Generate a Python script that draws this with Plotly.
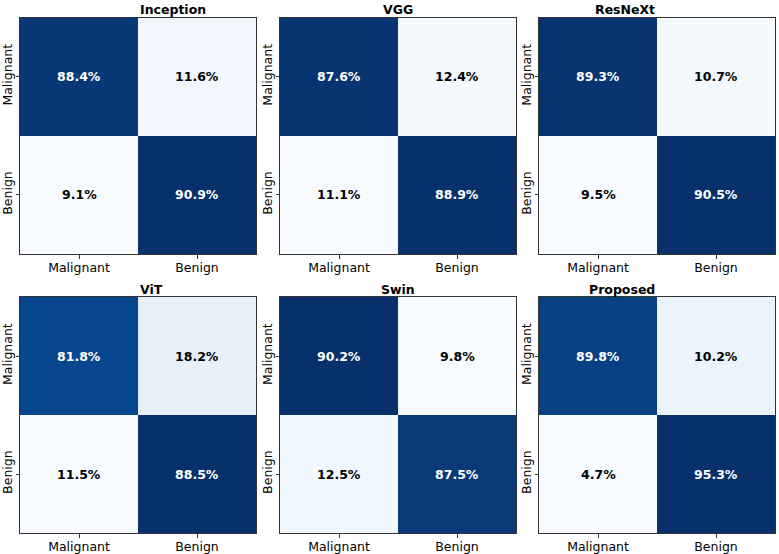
import plotly.graph_objects as go

models = ["Inception", "VGG", "ResNeXt", "ViT", "Swin", "Proposed"]
classes = ["Malignant", "Benign"]
# rows: true class (Malignant, Benign); cols: predicted (Malignant, Benign)
inception = [[88.4, 11.6], [9.1, 90.9]]
vgg = [[87.6, 12.4], [11.1, 88.9]]
resnext = [[89.3, 10.7], [9.5, 90.5]]
vit = [[81.8, 18.2], [11.5, 88.5]]
swin = [[90.2, 9.8], [12.5, 87.5]]
proposed = [[89.8, 10.2], [4.7, 95.3]]
matrices = [inception, vgg, resnext, vit, swin, proposed]

blues = [
    [0.0, "rgb(247,251,255)"], [0.125, "rgb(222,235,247)"], [0.25, "rgb(198,219,239)"],
    [0.375, "rgb(158,202,225)"], [0.5, "rgb(107,174,214)"], [0.625, "rgb(66,146,198)"],
    [0.75, "rgb(33,113,181)"], [0.875, "rgb(8,81,156)"], [1.0, "rgb(8,48,107)"],
]

W, H = 779, 554
xpx = [(20, 256), (280, 516), (539, 775)]
ypx = [(17.5, 254), (297, 533)]
FONT = "DejaVu Sans"

fig = go.Figure()
annotations = []
layout = {}
for k, (name, m) in enumerate(zip(models, matrices)):
    r, c = divmod(k, 3)
    idx = "" if k == 0 else str(k + 1)
    x0, x1 = xpx[c]
    y0, y1 = ypx[r]
    flat = [v for row in m for v in row]
    vmin, vmax = min(flat), max(flat)
    fig.add_trace(go.Heatmap(
        z=m, x=[0, 1], y=[0, 1], colorscale=blues, zmin=vmin, zmax=vmax,
        showscale=False, xaxis="x" + idx, yaxis="y" + idx, hoverinfo="skip",
    ))
    axcommon = dict(
        showline=True, mirror=True, linecolor="#333333", linewidth=1,
        ticks="outside", ticklen=3.5, tickcolor="#333333", tickwidth=1,
        showgrid=False, zeroline=False, tickvals=[0, 1], ticktext=classes,
        tickfont=dict(family=FONT, size=12.5, color="#000000"),
    )
    layout["xaxis" + idx] = dict(axcommon, domain=[x0 / W, x1 / W], range=[-0.5, 1.5],
                                 anchor="y" + idx, ticklabelstandoff=-2)
    layout["yaxis" + idx] = dict(axcommon, domain=[1 - y1 / H, 1 - y0 / H], range=[1.5, -0.5],
                                 anchor="x" + idx, tickangle=-90, ticklabelstandoff=-1)
    thresh = (vmax + vmin) / 2
    for i in range(2):
        for j in range(2):
            v = m[i][j]
            annotations.append(dict(
                x=j, y=i, xref="x" + idx, yref="y" + idx, text=f"{v:.1f}%",
                showarrow=False,
                font=dict(family=FONT, size=12.5, color="white" if v > thresh else "black",
                          weight="bold"),
            ))
    annotations.append(dict(
        x=(x0 + x1) / 2 / W, y=1 - (y0 - 8) / H, xref="paper", yref="paper",
        text=f"<b>{name}</b>", showarrow=False, yanchor="middle",
        font=dict(family=FONT, size=12.5, color="black"),
    ))

fig.update_layout(
    width=W, height=H, margin=dict(l=0, r=0, t=0, b=0),
    paper_bgcolor="white", plot_bgcolor="white",
    annotations=annotations, showlegend=False, **layout,
)
fig.write_html("out.html")
